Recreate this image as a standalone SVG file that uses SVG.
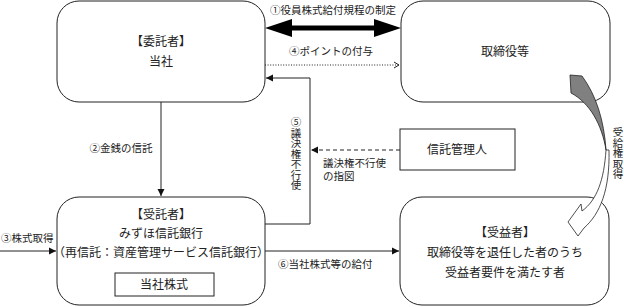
<svg xmlns="http://www.w3.org/2000/svg" width="624" height="307" viewBox="0 0 624 307">
<style>
.box{fill:#fff;stroke:#222;stroke-width:1}
.t{font-family:"Liberation Serif","Noto Sans CJK JP",serif;font-size:12px;fill:#222;text-anchor:middle;dominant-baseline:central}
.l{font-family:"Liberation Serif","Noto Sans CJK JP",serif;font-size:10.5px;fill:#222;dominant-baseline:central}
.v{font-family:"Liberation Serif","Noto Sans CJK JP",serif;font-size:10.5px;fill:#222;writing-mode:vertical-rl}
.ln{fill:none;stroke:#222;stroke-width:1}
</style>
<defs>
<marker id="ah" markerWidth="8" markerHeight="8" refX="7" refY="4" orient="auto" markerUnits="userSpaceOnUse">
<path d="M0,0.5 L7,4 L0,7.5 Z" fill="#111"/>
</marker>
<marker id="oh" markerWidth="8" markerHeight="8" refX="6" refY="4" orient="auto" markerUnits="userSpaceOnUse">
<path d="M1,1 L6,4 L1,7" fill="none" stroke="#222" stroke-width="1"/>
</marker>
</defs>

<g id="connectors">
<polygon points="265,28 292,19 292,25.5 374,25.5 374,19 401,28 374,37 374,30.5 292,30.5 292,37" fill="#000"/>
<line class="ln" x1="265" y1="65" x2="399" y2="65" stroke-dasharray="1,1.6" marker-end="url(#oh)"/>
<polyline class="ln" points="265,224 310,224 310,78 266,78" marker-end="url(#ah)"/>
<line class="ln" x1="400" y1="150" x2="311" y2="150" stroke-dasharray="4,3" marker-end="url(#ah)"/>
<line class="ln" x1="161" y1="102" x2="161" y2="196" marker-end="url(#ah)"/>
<line class="ln" x1="0" y1="251" x2="56" y2="251" marker-end="url(#ah)"/>
<line class="ln" x1="265" y1="251" x2="399" y2="251" marker-end="url(#ah)"/>
</g>

<g id="itaku">
<rect class="box" x="57" y="1" width="208" height="101" rx="22"/>
<text class="t" x="161" y="42">【委託者】</text>
<text class="t" x="161" y="62">当社</text>
</g>

<g id="torishimari">
<rect class="box" x="401" y="1" width="209" height="101" rx="22"/>
<text class="t" x="505" y="52">取締役等</text>
</g>

<g id="shintakukanri">
<rect class="box" x="400" y="129" width="115" height="41"/>
<text class="t" x="457" y="150">信託管理人</text>
</g>

<g id="jutaku">
<rect class="box" x="57" y="197" width="208" height="108" rx="22"/>
<text class="t" x="161" y="215">【受託者】</text>
<text class="t" x="161" y="234">みずほ信託銀行</text>
<text class="t" x="161" y="253" font-size="11.5">（再信託：資産管理サービス信託銀行）</text>
</g>

<g id="toushakabu">
<rect class="box" x="115" y="273" width="99" height="23"/>
<text class="t" x="164" y="285">当社株式</text>
</g>

<g id="jueki">
<rect class="box" x="400" y="197" width="209" height="108" rx="22"/>
<text class="t" x="505" y="233">【受益者】</text>
<text class="t" x="505" y="253">取締役等を退任した者のうち</text>
<text class="t" x="505" y="273">受益者要件を満たす者</text>
</g>

<g id="ribbon">
<path d="M570,75 L582,76 C596,95 604,120 606,150 C602,125 590,103 571,93 Z" fill="#808080" stroke="#222" stroke-width="0.8"/>
<path d="M606,150 C604,180 597,200 582,211 L581,204 L568,222 L578,236 L584,228 C600,214 610,190 609,150 Z" fill="#fff" stroke="#222" stroke-width="0.8"/>
</g>

<g id="labels">
<text class="l" x="333" y="10" text-anchor="middle">①役員株式給付規程の制定</text>
<text class="l" x="331" y="51" text-anchor="middle">④ポイントの付与</text>
<text class="l" x="121" y="148" text-anchor="middle">②金銭の信託</text>
<text class="l" x="1" y="238">③株式取得</text>
<text class="l" x="278" y="264">⑥当社株式等の給付</text>
<text class="l" x="323" y="163">議決権不行使</text>
<text class="l" x="323" y="176">の指図</text>
<text class="v" x="295" y="117">⑤議決権不行使</text>
<text class="v" x="617" y="127">受給権取得</text>
</g>
</svg>
